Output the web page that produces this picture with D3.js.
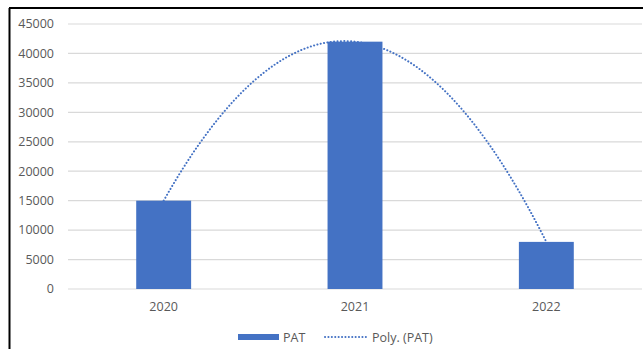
<!DOCTYPE html>
<html><head><meta charset="utf-8">
<script src="https://cdn.jsdelivr.net/npm/d3@7"></script>
<style>html,body{margin:0;padding:0;background:#fff;}svg{display:block;}</style>
</head><body>
<script>
const categories = ["2020", "2021", "2022"];
const patValues = [15000, 42000, 8000];
const yTicks = [0, 5000, 10000, 15000, 20000, 25000, 30000, 35000, 40000, 45000];
const seriesName = "PAT";
const trendName = "Poly. (PAT)";

const W = 643, H = 349;
const svg = d3.select("body").append("svg").attr("width", W).attr("height", H);
const color = "#4472C4";
const font = "'Open Sans', 'Noto Sans', sans-serif";
const fs = 12.5;

// chart frame (left and top border)
svg.append("line").attr("x1", 9.5).attr("x2", 9.5).attr("y1", 8).attr("y2", H).attr("stroke", "#000").attr("stroke-width", 2);
svg.append("line").attr("x1", 9).attr("x2", W).attr("y1", 8).attr("y2", 8).attr("stroke", "#000").attr("stroke-width", 2);

const x = d3.scaleBand().domain(categories).range([68, 642]).paddingInner(0.713).paddingOuter(0.3565);
const y = d3.scaleLinear().domain([0, 45000]).range([289, 24]);

// gridlines
svg.append("g").selectAll("line").data(yTicks).join("line")
  .attr("x1", 68).attr("x2", 642)
  .attr("y1", d => y(d)).attr("y2", d => y(d))
  .attr("stroke", "#d9d9d9").attr("stroke-width", 1.2);

// y labels
svg.append("g").selectAll("text").data(yTicks).join("text")
  .attr("x", 54).attr("y", d => y(d)).attr("dy", "0.35em")
  .attr("text-anchor", "end").attr("font-family", font).attr("font-size", fs)
  .attr("fill", "#595959").text(d => d);

// bars
svg.append("g").selectAll("rect").data(patValues).join("rect")
  .attr("x", (d, i) => x(categories[i])).attr("width", x.bandwidth())
  .attr("y", d => y(d)).attr("height", d => y(0) - y(d))
  .attr("fill", color);

// x labels
svg.append("g").selectAll("text").data(categories).join("text")
  .attr("x", d => x(d) + x.bandwidth() / 2).attr("y", 311)
  .attr("text-anchor", "middle").attr("font-family", font).attr("font-size", fs)
  .attr("fill", "#595959").text(d => d);

// polynomial trendline (order 2 least squares fit on index 1..n)
const n = patValues.length;
const xs = patValues.map((d, i) => i + 1);
function fitQuad(X, Y) {
  let s = [0,0,0,0,0], t = [0,0,0];
  X.forEach((xv, i) => { for (let k = 0; k < 5; k++) s[k] += Math.pow(xv, k); for (let k = 0; k < 3; k++) t[k] += Y[i] * Math.pow(xv, k); });
  const A = [[s[0], s[1], s[2], t[0]], [s[1], s[2], s[3], t[1]], [s[2], s[3], s[4], t[2]]];
  for (let i = 0; i < 3; i++) {
    for (let j = i + 1; j < 3; j++) { const f = A[j][i] / A[i][i]; for (let k = i; k < 4; k++) A[j][k] -= f * A[i][k]; }
  }
  const c = [0,0,0];
  for (let i = 2; i >= 0; i--) { let v = A[i][3]; for (let k = i + 1; k < 3; k++) v -= A[i][k] * c[k]; c[i] = v / A[i][i]; }
  return c;
}
const coef = fitQuad(xs, patValues);
const tx = d3.scaleLinear().domain([1, n]).range([x(categories[0]) + x.bandwidth()/2, x(categories[n-1]) + x.bandwidth()/2]);
const pts = d3.range(1, n + 0.001, 0.02).map(v => [tx(v), y(coef[0] + coef[1]*v + coef[2]*v*v)]);
svg.append("path").attr("d", d3.line()(pts)).attr("fill", "none")
  .attr("stroke", color).attr("stroke-width", 2).attr("stroke-dasharray", "0.1 3.3").attr("stroke-linecap", "round");

// legend
const lg = svg.append("g");
lg.append("rect").attr("x", 238).attr("y", 334).attr("width", 41).attr("height", 6).attr("fill", color);
lg.append("text").attr("x", 283).attr("y", 341.5).attr("font-family", font).attr("font-size", fs).attr("fill", "#595959").text(seriesName);
lg.append("line").attr("x1", 325).attr("x2", 366).attr("y1", 337).attr("y2", 337)
  .attr("stroke", color).attr("stroke-width", 2).attr("stroke-dasharray", "0.1 3.3").attr("stroke-linecap", "round");
lg.append("text").attr("x", 372).attr("y", 341.5).attr("font-family", font).attr("font-size", fs).attr("fill", "#595959").text(trendName);
</script>
</body></html>
